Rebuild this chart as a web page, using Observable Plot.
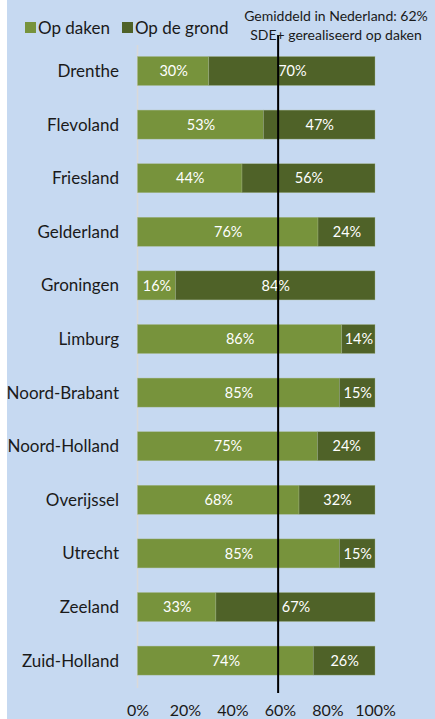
<!DOCTYPE html>
<html>
<head>
<meta charset="utf-8">
<script src="https://cdn.jsdelivr.net/npm/d3@7"></script>
<script src="https://cdn.jsdelivr.net/npm/@observablehq/plot@0.6"></script>
<style>
  html, body { margin: 0; padding: 0; background: #ffffff; }
  #wrap { position: relative; width: 435px; height: 719px; overflow: hidden; font-family: Lato, "Open Sans", sans-serif; }
  #bg { position: absolute; left: 7px; top: 0; right: 0; bottom: 0; background: #c6d9f1; }
  #chart { position: absolute; left: 0; top: 0; }
  #legend { position: absolute; left: 25px; top: 17px; font-size: 17px; color: #1a1a1a; display: flex; align-items: center; white-space: nowrap; }
  #legend .sw { display: inline-block; width: 11px; height: 11px; margin-right: 2px; }
  #legend .item { display: flex; align-items: center; margin-right: 12px; }
  #note { position: absolute; left: 238px; width: 196px; top: 6px; font-size: 14px; line-height: 19px; text-align: center; color: #1a1a1a; white-space: nowrap; }
</style>
</head>
<body>
<div id="wrap">
  <div id="bg"></div>
  <div id="chart"></div>
  <div id="legend"></div>
  <div id="note"></div>
</div>
<script>
const provinces = ["Drenthe","Flevoland","Friesland","Gelderland","Groningen","Limburg","Noord-Brabant","Noord-Holland","Overijssel","Utrecht","Zeeland","Zuid-Holland"];
const opDaken  = [30, 53, 44, 76, 16, 86, 85, 75, 68, 85, 33, 74];
const opGrond  = [70, 47, 56, 24, 84, 14, 15, 24, 32, 15, 67, 26];
const seriesNames = ["Op daken", "Op de grond"];
const seriesColors = ["#77933c", "#4f6228"];
const xTicks = [0, 0.2, 0.4, 0.6, 0.8, 1];
const avgLinePos = 0.59;
const noteLines = ["Gemiddeld in Nederland: 62%", "SDE+ gerealiseerd op daken"];

const data = [];
provinces.forEach((p, i) => {
  data.push({province: p, type: seriesNames[0], value: opDaken[i]});
  data.push({province: p, type: seriesNames[1], value: opGrond[i]});
});

const chart = Plot.plot({
  width: 435,
  height: 719,
  marginLeft: 137.5,
  marginRight: 60,
  marginTop: 35,
  marginBottom: 26,
  style: {background: "transparent", fontFamily: "Lato, 'Open Sans', sans-serif", color: "#1a1a1a"},
  x: {domain: [0, 1], axis: null},
  y: {domain: provinces, range: [56.5, 675.1], paddingInner: 0.459, paddingOuter: 0, round: false, axis: null},
  color: {domain: seriesNames, range: seriesColors},
  marks: [
    Plot.ruleX([0], {stroke: "#d9d9d9", strokeWidth: 1.5, insetTop: 10, insetBottom: 5, dx: -0.5}),
    Plot.barX(data, Plot.stackX({x: "value", y: "province", fill: "type", z: "type", offset: "normalize", stroke: "#a9b98f", strokeWidth: 0.6, strokeOpacity: 0.6})),
    Plot.text(data, Plot.stackX({x: "value", y: "province", z: "type", offset: "normalize", text: d => d.value + "%", fill: "white", fontSize: 14.5})),
    Plot.ruleX([avgLinePos], {stroke: "black", strokeWidth: 2}),
    Plot.axisY({domain: provinces, tickSize: 0, tickPadding: 19, fontSize: 17, label: null}),
    Plot.axisX({ticks: xTicks, tickFormat: d3.format(".0%"), tickSize: 0, tickPadding: 11, fontSize: 16, label: null})
  ]
});
document.getElementById("chart").appendChild(chart);

const legend = document.getElementById("legend");
seriesNames.forEach((n, i) => {
  const it = document.createElement("span");
  it.className = "item";
  const sw = document.createElement("span");
  sw.className = "sw";
  sw.style.background = seriesColors[i];
  it.appendChild(sw);
  it.appendChild(document.createTextNode(n));
  legend.appendChild(it);
});
document.getElementById("note").innerHTML = noteLines.join("<br>");
</script>
</body>
</html>
